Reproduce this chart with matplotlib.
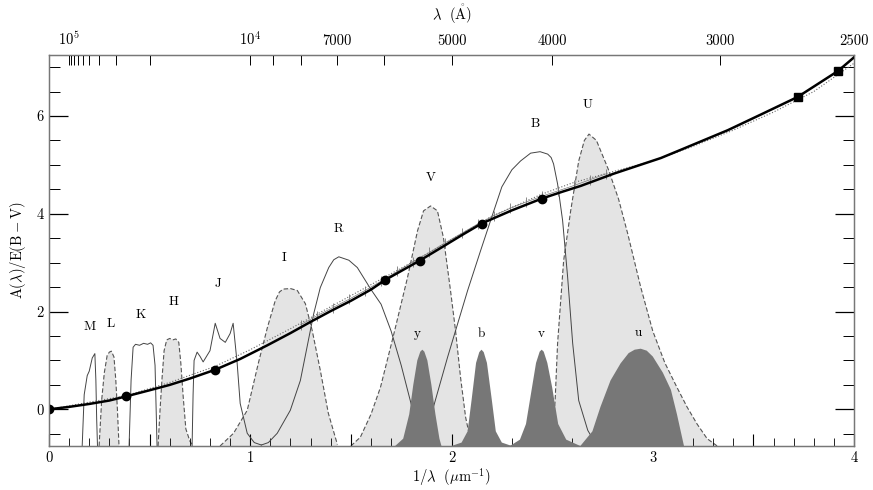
import numpy as np
import matplotlib
matplotlib.use('Agg')
import matplotlib.pyplot as plt

plt.rcParams['font.family'] = 'serif'
plt.rcParams['font.serif'] = ['cmr10', 'DejaVu Serif']
plt.rcParams['mathtext.fontset'] = 'cm'
plt.rcParams['axes.unicode_minus'] = False

# extinction curve A(lambda)/E(B-V)
curve_x = [0, 0.1, 0.2, 0.3, 0.383, 0.5, 0.6, 0.7, 0.826, 0.95, 1.085, 1.2, 1.3, 1.4,
           1.5, 1.6, 1.672, 1.75, 1.841, 1.95, 2.05, 2.149, 2.3, 2.448, 2.55, 2.642,
           2.806, 3.04, 3.14, 3.373, 3.537, 3.72, 3.92, 4.0]
curve_y = [0, 0.05, 0.11, 0.18, 0.265, 0.39, 0.5, 0.63, 0.81, 1.03, 1.31, 1.56, 1.79, 2.01,
           2.22, 2.45, 2.65, 2.83, 3.04, 3.31, 3.56, 3.80, 4.07, 4.31, 4.45, 4.57,
           4.82, 5.14, 5.31, 5.71, 6.03, 6.39, 6.92, 7.2]
anchor_x = [0, 0.383, 0.826, 1.672, 1.841, 2.149, 2.448]
anchor_y = [0, 0.265, 0.81, 2.65, 3.04, 3.80, 4.31]
uv_x = [3.72, 3.92]
uv_y = [6.39, 6.92]

dot_x = [0, 0.383, 0.6, 0.826, 1.0, 1.2, 1.4, 1.6, 1.8, 2.0, 2.2, 2.448, 2.6, 2.8,
         3.0, 3.2, 3.4, 3.6, 3.8, 4.0]
dot_y = [0, 0.28, 0.55, 0.88, 1.22, 1.65, 2.10, 2.55, 3.0, 3.47, 3.95, 4.40, 4.63, 4.86,
         5.08, 5.38, 5.71, 6.08, 6.50, 7.08]

cross_x = [1.25, 1.33, 1.41, 1.49, 1.57, 1.65, 1.73, 1.81, 1.89, 1.97, 2.05, 2.13,
           2.21, 2.29, 2.37, 2.45, 2.53, 2.61, 2.69, 2.77]
cross_y = [1.73, 1.91, 2.08, 2.25, 2.43, 2.62, 2.82, 3.02, 3.21, 3.41, 3.60, 3.79,
           3.96, 4.11, 4.24, 4.36, 4.47, 4.58, 4.70, 4.82]

# Johnson filters drawn filled (dashed edge)
L_x = [0.249, 0.262, 0.275, 0.289, 0.300, 0.310, 0.323, 0.332, 0.340, 0.348]
L_y = [-0.75, 0.2, 0.75, 1.10, 1.17, 1.19, 1.07, 0.6, 0.0, -0.75]
H_x = [0.542, 0.552, 0.562, 0.572, 0.585, 0.600, 0.615, 0.630, 0.645, 0.655, 0.667, 0.680, 0.700, 0.716]
H_y = [-0.75, 0.0, 0.65, 1.2, 1.42, 1.45, 1.42, 1.44, 1.37, 0.95, 0.25, -0.4, -0.65, -0.75]
I_x = [0.85, 0.917, 0.985, 1.04, 1.085, 1.124, 1.145, 1.164, 1.20, 1.234, 1.274, 1.308,
       1.348, 1.388, 1.433]
I_y = [-0.75, -0.49, -0.02, 0.94, 1.67, 2.22, 2.40, 2.46, 2.47, 2.43, 2.16, 1.61,
       0.80, -0.08, -0.72]
V_x = [1.50, 1.547, 1.60, 1.647, 1.711, 1.781, 1.831, 1.861, 1.896, 1.93, 1.96, 1.995,
       2.02, 2.045, 2.07, 2.10]
V_y = [-0.75, -0.57, -0.1, 0.45, 1.5, 2.69, 3.65, 4.06, 4.16, 4.06, 3.51, 2.43, 1.61,
       0.65, -0.16, -0.75]
U_x = [2.50, 2.515, 2.527, 2.557, 2.592, 2.632, 2.66, 2.683, 2.72, 2.78, 2.83, 2.875,
       2.94, 3.0, 3.06, 3.12, 3.17, 3.22, 3.27, 3.32]
U_y = [-0.75, 0.2, 1.35, 3.04, 4.06, 5.08, 5.5, 5.63, 5.5, 4.9, 4.3, 3.6,
       2.5, 1.6, 0.95, 0.45, 0.05, -0.3, -0.6, -0.75]

# Johnson filters drawn as thin lines
M_x = [0.165, 0.175, 0.19, 0.20, 0.215, 0.228, 0.233, 0.237, 0.241]
M_y = [-0.75, 0.3, 0.69, 0.78, 1.05, 1.14, 0.6, -0.2, -0.75]
K_x = [0.398, 0.408, 0.418, 0.43, 0.45, 0.47, 0.49, 0.505, 0.517, 0.527, 0.537]
K_y = [-0.75, 0.6, 1.27, 1.33, 1.31, 1.35, 1.33, 1.36, 1.31, 0.9, -0.75]
J_x = [0.711, 0.716, 0.721, 0.736, 0.751, 0.766, 0.80, 0.826, 0.85, 0.876, 0.90, 0.915,
       0.935, 0.950, 0.985, 1.02, 1.055]
J_y = [-0.75, 0.3, 1.0, 1.17, 1.08, 0.97, 1.2, 1.76, 1.45, 1.37, 1.55, 1.76,
       0.94, 0.12, -0.49, -0.68, -0.73]
R_x = [1.055, 1.09, 1.134, 1.199, 1.249, 1.315, 1.348, 1.39, 1.415, 1.44, 1.49, 1.532,
       1.60, 1.65, 1.70, 1.75, 1.80, 1.85]
R_y = [-0.73, -0.68, -0.49, -0.02, 0.59, 1.95, 2.49, 2.90, 3.06, 3.12, 3.05, 2.90,
       2.45, 2.15, 1.6, 0.9, 0.1, -0.73]
B_x = [1.85, 1.90, 1.98, 2.08, 2.144, 2.194, 2.25, 2.30, 2.343, 2.393, 2.44, 2.478,
       2.495, 2.507, 2.527, 2.552, 2.577, 2.602, 2.632, 2.677, 2.72]
B_y = [-0.73, -0.1, 1.06, 2.43, 3.24, 3.86, 4.55, 4.9, 5.08, 5.24, 5.27, 5.22,
       5.15, 5.02, 4.61, 3.86, 2.70, 1.35, 0.18, -0.43, -0.73]

# Stromgren filters (dark fill)
sy_x = [1.72, 1.76, 1.79, 1.81, 1.83, 1.845, 1.855, 1.865, 1.88, 1.90, 1.92, 1.94, 1.95]
sy_y = [-0.75, -0.6, -0.1, 0.5, 1.0, 1.18, 1.22, 1.18, 1.0, 0.5, -0.1, -0.6, -0.75]
sb_x = [2.00, 2.05, 2.08, 2.10, 2.122, 2.138, 2.149, 2.160, 2.176, 2.20, 2.22, 2.25, 2.30]
sb_y = [-0.75, -0.68, -0.45, 0.2, 0.95, 1.17, 1.22, 1.17, 0.95, 0.2, -0.45, -0.68, -0.75]
sv_x = [2.29, 2.34, 2.37, 2.40, 2.42, 2.438, 2.448, 2.458, 2.476, 2.50, 2.53, 2.57, 2.64]
sv_y = [-0.75, -0.62, -0.3, 0.45, 0.95, 1.18, 1.22, 1.18, 0.95, 0.45, -0.3, -0.62, -0.75]
su_x = [2.64, 2.70, 2.74, 2.79, 2.84, 2.88, 2.91, 2.94, 2.97, 3.0, 3.05, 3.09, 3.12, 3.155]
su_y = [-0.75, -0.45, 0.05, 0.59, 0.94, 1.15, 1.22, 1.24, 1.2, 1.08, 0.75, 0.40, -0.1, -0.75]

filled = [(L_x, L_y), (H_x, H_y), (I_x, I_y), (V_x, V_y), (U_x, U_y)]
lines = [(M_x, M_y), (K_x, K_y), (J_x, J_y), (R_x, R_y), (B_x, B_y)]
strom = [(sy_x, sy_y), (sb_x, sb_y), (sv_x, sv_y), (su_x, su_y)]

labels = ['M', 'L', 'K', 'H', 'J', 'I', 'R', 'V', 'B', 'U', 'y', 'b', 'v', 'u']
label_x = [0.20, 0.308, 0.457, 0.617, 0.841, 1.169, 1.438, 1.896, 2.418, 2.677, 1.83, 2.149, 2.448, 2.93]
label_y = [1.69, 1.75, 1.94, 2.19, 2.57, 3.10, 3.69, 4.73, 5.84, 6.22, 1.55, 1.55, 1.55, 1.57]

top_major = [1e5, 1e4, 7000, 5000, 4000, 3000, 2500]
top_labels = [r'$10^5$', r'$10^4$', '7000', '5000', '4000', '3000', '2500']
top_minor = [9e4, 8e4, 7e4, 6e4, 5e4, 4e4, 3e4, 2e4, 9000, 8000, 6000]

ymin = -0.75
fig = plt.figure(figsize=(8.73, 4.90), dpi=100)
ax = fig.add_axes([0.0561, 0.0898, 0.9222, 0.7982])

for fx, fy in filled:
    ax.fill_between(fx, fy, ymin, facecolor='#e4e4e4', edgecolor='none', zorder=1)
    ax.plot(fx, fy, color='#555555', lw=0.8, dashes=(4, 2), zorder=1.5)
for fx, fy in lines:
    ax.plot(fx, fy, color='#444444', lw=0.7, zorder=2)
for fx, fy in strom:
    ax.fill_between(fx, fy, ymin, facecolor='#777777', edgecolor='none', zorder=2.5)

ax.plot(dot_x, dot_y, color='#666666', lw=0.8, ls=':', zorder=3)
ax.plot(cross_x, cross_y, color='#777777', lw=0.5, marker='|', ms=7, mew=0.6, zorder=3)
ax.plot(curve_x, curve_y, color='black', lw=1.8, zorder=4)
ax.plot(anchor_x, anchor_y, 'o', color='black', ms=6, zorder=5)
ax.plot(uv_x, uv_y, 's', color='black', ms=5.5, zorder=5)

for t, lx, ly in zip(labels, label_x, label_y):
    ax.text(lx, ly, t, ha='center', va='center', fontsize=9.5)

ax.set_xlim(0, 4)
ax.set_ylim(ymin, 7.25)
ax.set_xticks(np.arange(0, 4.01, 0.5))
ax.set_xticklabels(['0', '', '1', '', '2', '', '3', '', '4'])
ax.set_xticks(np.arange(0, 4.01, 0.1), minor=True)
ax.set_yticks([0, 2, 4, 6])
ax.set_yticks(np.arange(-0.5, 7.01, 0.5), minor=True)
ax.tick_params(which='both', direction='in', right=True, top=False, labelsize=10.5, colors='black')
ax.tick_params(axis='y', which='major', length=14, width=0.9)
ax.tick_params(axis='y', which='minor', length=8, width=0.7)
ax.tick_params(axis='x', which='major', length=9, width=0.8)
ax.tick_params(axis='x', which='minor', length=6, width=0.6)
for s in ax.spines.values():
    s.set_color('#777777')
    s.set_linewidth(1.0)

ax.set_xlabel(r'$1/\lambda\ \ (\mu\mathrm{m}^{-1})$', fontsize=10.5, labelpad=1)
ax.set_ylabel(r'$\mathrm{A}(\lambda)/\mathrm{E}(\mathrm{B}-\mathrm{V})$', fontsize=10.5, labelpad=6)

top = ax.twiny()
top.set_xlim(ax.get_xlim())
top.set_xticks([1e4 / w for w in top_major])
top.set_xticklabels(top_labels)
top.set_xticks([1e4 / w for w in top_minor], minor=True)
top.tick_params(which='both', direction='in', length=7, width=0.7, labelsize=10.5, pad=5)
top.set_xlabel(r'$\lambda\ \ (\mathring{\mathrm{A}})$', fontsize=10.5, labelpad=7)
for s in top.spines.values():
    s.set_color('#777777')

fig.savefig('out.png', dpi=100)
